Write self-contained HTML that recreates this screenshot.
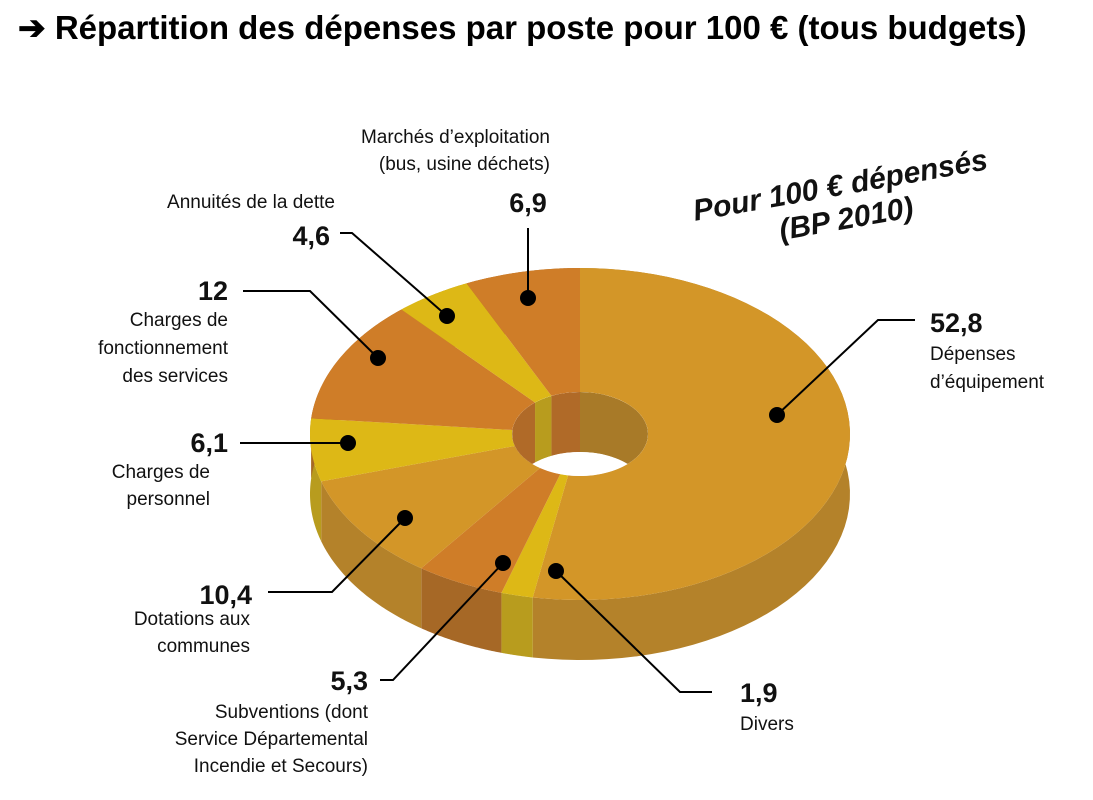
<!DOCTYPE html>
<html><head><meta charset="utf-8">
<style>
html,body{margin:0;padding:0;background:#fff;}
body{width:1093px;height:800px;overflow:hidden;position:relative;font-family:"Liberation Sans",sans-serif;}
.t{font-family:"Liberation Sans Narrow","Liberation Sans",sans-serif;fill:#111;}
.n{font-family:"Liberation Sans Narrow","Liberation Sans",sans-serif;font-weight:bold;fill:#111;font-size:27px;}
.l{font-size:19px;}
</style></head>
<body>
<div style="position:absolute;left:18px;top:8px;font-size:33px;font-weight:bold;color:#000;white-space:nowrap;">➔ Répartition des dépenses par poste pour 100 € (tous budgets)</div>
<svg id="chart" width="1093" height="800" style="position:absolute;left:0;top:0">
<defs><clipPath id="holeClip"><ellipse cx="580" cy="434" rx="68" ry="42"/></clipPath></defs>
<g id="walls"></g><g id="tops"></g><g id="hole" clip-path="url(#holeClip)"></g>
<g id="ann" stroke="#000" stroke-width="2" fill="none"></g>
<g id="dots"></g>
<g transform="translate(842,195) rotate(-10)">
<text x="0" y="0" text-anchor="middle" style="font-family:'Liberation Sans Narrow','Liberation Sans',sans-serif;font-weight:bold;font-style:italic;font-size:30px;fill:#111">Pour 100 € dépensés</text>
<text x="0" y="34" text-anchor="middle" style="font-family:'Liberation Sans Narrow','Liberation Sans',sans-serif;font-weight:bold;font-style:italic;font-size:30px;fill:#111">(BP 2010)</text>
</g>
<g id="labels"></g>
</svg>
<script>
const categories=["Dépenses d'équipement","Divers","Subventions","Dotations aux communes","Charges de personnel","Charges de fonctionnement","Annuités de la dette","Marchés d'exploitation"];
const values=[52.8,1.9,5.3,10.4,6.1,12,4.6,6.9];
const valueLabels=["52,8","1,9","5,3","10,4","6,1","12","4,6","6,9"];
const colorKeys=["gold","yellow","orange","gold","yellow","orange","yellow","orange"];
const TOP={gold:"#D39628",yellow:"#DDB816",orange:"#CF7D28"};
const SIDE={gold:"#B4822A",yellow:"#B89C1E",orange:"#A66826"};
const INNER={gold:"#A87A28",yellow:"#B89C1E",orange:"#B06A28"};
const cx=580,cy=434,rx=270,ry=166,irx=68,iry=42,D=60;
const NS="http://www.w3.org/2000/svg";
const total=values.reduce((a,b)=>a+b,0);
function pt(a,r1,r2,dy){return [cx+r1*Math.sin(a),cy-r2*Math.cos(a)+(dy||0)];}
function mk(tag,attrs,parent){const e=document.createElementNS(NS,tag);for(const k in attrs)e.setAttribute(k,attrs[k]);parent.appendChild(e);return e;}
let acc=0;const slices=[];
values.forEach((v,i)=>{const a0=acc/total*2*Math.PI;acc+=v;const a1=acc/total*2*Math.PI;slices.push([a0,a1]);});
const walls=document.getElementById('walls'),tops=document.getElementById('tops'),hole=document.getElementById('hole');
slices.forEach(([a0,a1],i)=>{
  const N=60;let up=[],dn=[];
  for(let k=0;k<=N;k++){const a=a0+(a1-a0)*k/N;up.push(pt(a,rx,ry));dn.push(pt(a,rx,ry,D));}
  const w=mk('polygon',{points:up.concat(dn.reverse()).map(p=>p.join(',')).join(' '),fill:SIDE[colorKeys[i]]},walls);
  
  
  let o=[],inn=[];
  for(let k=0;k<=N;k++){const a=a0+(a1-a0)*k/N;o.push(pt(a,rx,ry));inn.push(pt(a,irx,iry));}
  const t=mk('polygon',{points:o.concat(inn.reverse()).map(p=>p.join(',')).join(' '),fill:TOP[colorKeys[i]]},tops);
  
  
  let iu=[],idn=[];
  for(let k=0;k<=N;k++){const a=a0+(a1-a0)*k/N;iu.push(pt(a,irx,iry));idn.push(pt(a,irx,iry,D));}
  const h=mk('polygon',{points:iu.concat(idn.reverse()).map(p=>p.join(',')).join(' '),fill:INNER[colorKeys[i]]},hole);
  
  
});
const fl=mk('ellipse',{cx:cx,cy:cy+D,rx:irx,ry:iry,fill:"#fff"},hole);


const ann=[
 {dot:[777,415],line:[[878,320],[915,320]],num:[930,332,'start'],txt:[["Dépenses",930,360,'start'],["d’équipement",930,388,'start']]},
 {dot:[556,571],line:[[680,692],[712,692]],num:[740,702,'start'],txt:[["Divers",740,730,'start']]},
 {dot:[503,563],line:[[393,680],[380,680]],num:[368,690,'end'],txt:[["Subventions (dont",368,718,'end'],["Service Départemental",368,745,'end'],["Incendie et Secours)",368,772,'end']]},
 {dot:[405,518],line:[[332,592],[268,592]],num:[252,604,'end'],txt:[["Dotations aux",250,625,'end'],["communes",250,652,'end']]},
 {dot:[348,443],line:[[240,443]],num:[228,452,'end'],txt:[["Charges de",210,478,'end'],["personnel",210,505,'end']]},
 {dot:[378,358],line:[[310,291],[243,291]],num:[228,300,'end'],txt:[["Charges de",228,326,'end'],["fonctionnement",228,354,'end'],["des services",228,382,'end']]},
 {dot:[447,316],line:[[352,233],[340,233]],num:[330,245,'end'],txt:[["Annuités de la dette",335,208,'end']]},
 {dot:[528,298],line:[[528,228]],num:[528,212,'middle'],txt:[["Marchés d’exploitation",550,143,'end'],["(bus, usine déchets)",550,170,'end']]}
];
const annG=document.getElementById('ann'),dotsG=document.getElementById('dots'),labG=document.getElementById('labels');
ann.forEach((a,i)=>{
  const pl=mk('polyline',{points:[a.dot].concat(a.line).map(p=>p.join(',')).join(' ')},annG);
  
  
  const c=mk('circle',{cx:a.dot[0],cy:a.dot[1],r:8,fill:"#000"},dotsG);
  
  
  const n=mk('text',{x:a.num[0],y:a.num[1],'text-anchor':a.num[2],class:'n'},labG);
  n.textContent=valueLabels[i];
  
  
  a.txt.forEach((t,j)=>{const e=mk('text',{x:t[1],y:t[2],'text-anchor':t[3],class:'t l'},labG);e.textContent=t[0];
    
    });
});
</script>
</body></html>
